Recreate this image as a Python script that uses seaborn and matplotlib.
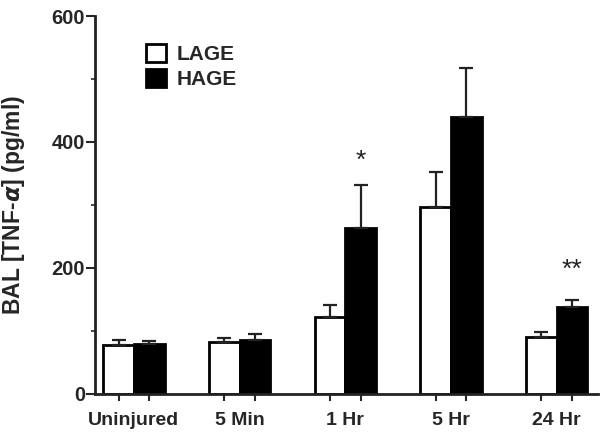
import pandas as pd
import matplotlib.pyplot as plt
import seaborn as sns
import numpy as np
from matplotlib.ticker import MultipleLocator, FixedLocator, NullFormatter

sns.set_theme(style="ticks")
plt.rcParams['font.family'] = ['Liberation Sans', 'DejaVu Sans']
plt.rcParams['font.weight'] = 'bold'

# Data
timepoints = ['Uninjured', '5 Min', '1 Hr', '5 Hr', '24 Hr']
groups = ['LAGE', 'HAGE']
lage_mean = [78, 83, 122, 296, 91]
lage_sem = [7, 6, 19, 57, 7]
hage_mean = [79, 86, 264, 440, 138]
hage_sem = [5, 9, 67, 78, 11]
sig_labels = ['', '', '*', '', '**']
sig_y = [None, None, 370, None, 197]

df = pd.DataFrame({
    'time': timepoints * 2,
    'group': ['LAGE'] * 5 + ['HAGE'] * 5,
    'value': lage_mean + hage_mean,
})

fig, ax = plt.subplots(figsize=(6.04, 4.45), dpi=100)
fig.subplots_adjust(left=0.157, right=0.99, top=0.964, bottom=0.115)

width = 0.58
sns.barplot(data=df, x='time', y='value', hue='group', order=timepoints,
            hue_order=groups, palette={'LAGE': 'white', 'HAGE': 'black'},
            edgecolor='black', linewidth=2, width=width, gap=0,
            errorbar=None, ax=ax)

# one-sided error bars
off = width / 4
x = np.arange(len(timepoints))
for xs, m, e in [(x - off, lage_mean, lage_sem), (x + off, hage_mean, hage_sem)]:
    ax.errorbar(xs, m, yerr=[np.zeros(len(e)), e], fmt='none', ecolor='#222222',
                elinewidth=1.6, capsize=5, capthick=1.6, zorder=1)

for i, s in enumerate(sig_labels):
    if s:
        ax.text(i + off, sig_y[i], s, ha='center', va='center', fontsize=19,
                fontweight='normal', color='#222222')

ax.set_ylim(0, 600)
ax.set_xlim(-0.37, 4.39)
ax.yaxis.set_major_locator(MultipleLocator(200))
ax.yaxis.set_minor_locator(MultipleLocator(100))
ax.xaxis.set_minor_locator(FixedLocator(np.concatenate([x - off, x + off])))
ax.xaxis.set_minor_formatter(NullFormatter())
ax.tick_params(axis='x', which='major', length=0, labelsize=14, pad=13)
ax.tick_params(axis='x', which='minor', length=5, width=1.5, direction='out')
ax.tick_params(axis='y', which='major', length=6.5, width=1.5, labelsize=14.5, pad=0.5)
ax.tick_params(axis='y', which='minor', length=3, width=1.2)
for lab in ax.get_xticklabels() + ax.get_yticklabels():
    lab.set_fontweight('bold')

ax.set_xlabel('')
ax.set_ylabel(r'BAL [TNF-$\alpha$] (pg/ml)', fontsize=16.5, fontweight='bold')
ax.yaxis.set_label_coords(-0.135, 0.5)
sns.despine(ax=ax)
for sp in ['left', 'bottom']:
    ax.spines[sp].set_linewidth(2)
    ax.spines[sp].set_color('#222222')

leg = ax.legend(loc='upper left', bbox_to_anchor=(0.064, 0.975), frameon=False,
                handlelength=0.95, handleheight=0.9, handletextpad=0.55,
                labelspacing=0.25, borderpad=0.4, prop={'size': 15, 'weight': 'bold'})

plt.savefig('out.png', dpi=100)
